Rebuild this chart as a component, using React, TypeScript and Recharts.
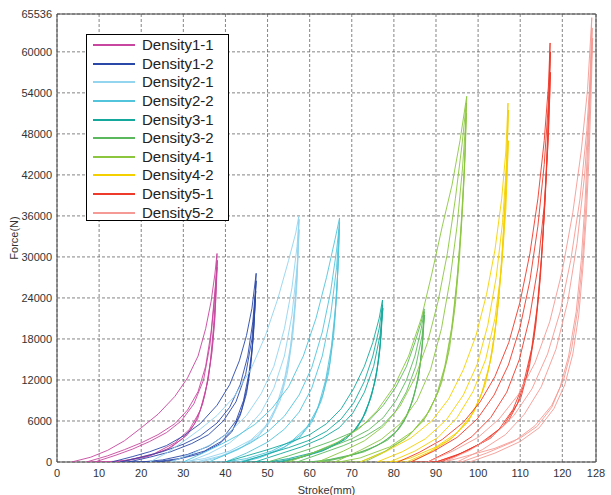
import { LineChart, Line, XAxis, YAxis, CartesianGrid, Legend, ReferenceArea } from "recharts";

type Pt = [number, number];

// stroke (mm), force (N) — load / unload cycles
const density1_1: Pt[] = [
  [3.5, 0], [8, 700], [12, 1700], [16, 3100], [20, 5000], [24, 7000], [28, 9600], [31, 12300], [33.5, 15500], [35.3, 19500], [36.6, 23500], [37.5, 27500], [38, 30500],
  [37.7, 25000], [37.2, 20000], [36.4, 14500], [35.2, 10000], [33.4, 6300], [31, 4000], [27, 2100], [22, 900], [16, 200], [11, 0],
  [7, 0], [12, 900], [16, 1800], [20, 2800], [24, 4000], [28, 5600], [31, 7600], [33.5, 10300], [35.3, 14000], [36.6, 19000], [37.5, 25000], [38.1, 29500],
  [37.6, 22500], [37, 17500], [36, 12500], [34.6, 8500], [32.6, 5500], [30, 3500], [26, 1800], [21, 700], [15, 0],
  [9, 0], [14, 1000], [18, 1900], [22, 3000], [26, 4300], [29.5, 6000], [32.5, 8500], [34.8, 12000], [36.3, 17000], [37.3, 23000], [38, 28500],
  [37.5, 21000], [36.8, 16000], [35.7, 11500], [34, 7500], [31.5, 4800], [28, 2800], [23, 1200], [17, 300], [13, 0],
];

const density1_2: Pt[] = [
  [13, 0], [18, 800], [22, 1500], [26, 2400], [30, 3800], [34, 5600], [38, 8300], [41, 11300], [43.3, 14800], [45, 18500], [46.3, 22500], [47.3, 27600],
  [47, 22500], [46.5, 17500], [45.6, 13000], [44.3, 9000], [42.5, 6000], [40, 4000], [36, 2300], [31, 1100], [25, 300], [20, 0],
  [15, 0], [20, 700], [25, 1500], [30, 2600], [34, 3800], [38, 5700], [41, 8000], [43.5, 11300], [45.3, 15500], [46.5, 20500], [47.3, 26500],
  [46.8, 20500], [46.2, 15500], [45.2, 11000], [43.8, 7500], [41.8, 4800], [39, 3000], [35, 1600], [29, 500], [23, 0],
  [17, 0], [22, 700], [27, 1500], [32, 2700], [36, 4000], [39.5, 6000], [42.5, 8800], [44.8, 12800], [46.3, 18000], [47.2, 25000],
  [46.7, 19000], [46, 14000], [45, 10000], [43.5, 6800], [41.5, 4400], [38.5, 2600], [34, 1200], [28, 300], [24, 0],
];

const density2_1: Pt[] = [
  [22, 0], [26, 1300], [30, 3000], [34, 4800], [38, 6800], [42, 9500], [46, 13500], [49.5, 18500], [52.5, 24000], [55, 29500], [56.7, 33500], [57.4, 35900],
  [57.1, 29000], [56.5, 23000], [55.5, 17000], [54, 12000], [52, 8000], [49.5, 5200], [46, 3200], [41, 1600], [35, 500], [30, 0],
  [27, 0], [32, 1200], [37, 2700], [41, 4400], [45, 6800], [48.5, 10000], [51.5, 14000], [54, 19500], [55.8, 25500], [57, 31500], [57.5, 35500],
  [57, 27000], [56.2, 20500], [55, 14500], [53.3, 10000], [51, 6500], [48, 4000], [44, 2200], [39, 900], [33, 0],
  [31, 0], [36, 1200], [41, 2800], [45, 4800], [48.5, 7300], [51.5, 10800], [54, 15500], [55.8, 21500], [57, 28500], [57.5, 34000],
  [56.9, 25000], [56, 18500], [54.7, 13000], [53, 9000], [50.5, 5800], [47.5, 3500], [43, 1800], [38, 600], [34, 0],
];

const density2_2: Pt[] = [
  [30, 0], [35, 1400], [39, 2600], [43, 3900], [47, 5500], [51, 7800], [55, 11000], [58.5, 15500], [61.5, 21000], [64, 27000], [66, 32500], [67.1, 35700],
  [66.8, 29000], [66.2, 23000], [65.2, 17000], [63.8, 12000], [62, 8000], [59.5, 5200], [56, 3200], [51, 1600], [45, 500], [40, 0],
  [36, 0], [41, 1300], [46, 2800], [50, 4400], [54, 6700], [57.5, 9800], [60.5, 13800], [63, 19000], [65, 25000], [66.4, 31000], [67.1, 35000],
  [66.6, 27000], [65.9, 20500], [64.8, 14500], [63.2, 10000], [61, 6500], [58, 4000], [54, 2200], [49, 900], [43, 0],
  [40, 0], [45, 1300], [50, 2900], [54, 4800], [57.5, 7300], [60.5, 10800], [63, 15500], [65, 21500], [66.4, 28500], [67, 34000],
  [66.5, 25000], [65.7, 18500], [64.5, 13000], [62.8, 9000], [60.5, 5800], [57.5, 3500], [53, 1800], [48, 600], [44, 0],
];

const density3_1: Pt[] = [
  [40, 0], [45, 900], [50, 1800], [55, 2800], [60, 4000], [64, 5600], [67.5, 7800], [70.5, 10800], [73, 14000], [75, 17500], [76.5, 21000], [77.3, 23700],
  [77, 19000], [76.4, 15000], [75.4, 11500], [74, 8600], [72.3, 6000], [70, 4200], [66, 2600], [61, 1400], [55, 500], [50, 0],
  [44, 0], [50, 1200], [55, 2100], [60, 3200], [64, 4500], [67.5, 6300], [70.5, 8700], [73, 11800], [75, 15500], [76.5, 19500], [77.3, 23000],
  [76.8, 17500], [76, 13500], [74.8, 10000], [73.3, 7200], [71.3, 5000], [68.5, 3300], [64, 1900], [58, 700], [52, 0],
  [47, 0], [53, 1200], [58, 2200], [63, 3500], [67, 5000], [70.3, 7200], [73, 10200], [75.2, 14000], [76.7, 18500], [77.4, 22500],
  [76.7, 16500], [75.8, 12500], [74.5, 9300], [72.8, 6700], [70.6, 4600], [67.5, 3000], [63, 1600], [57, 500], [53, 0],
];

const density3_2: Pt[] = [
  [50, 0], [55, 900], [60, 1900], [65, 3000], [70, 4300], [74, 6000], [77.5, 8300], [80.5, 11000], [83, 14000], [85, 17500], [86.5, 20500], [87.2, 22400],
  [86.9, 18000], [86.3, 14500], [85.3, 11000], [84, 8200], [82.3, 5800], [80, 4000], [76, 2400], [71, 1200], [65, 400], [60, 0],
  [54, 0], [60, 1200], [65, 2200], [70, 3400], [74, 4700], [77.5, 6500], [80.5, 9000], [83, 12000], [85, 15500], [86.5, 19500], [87.2, 22000],
  [86.7, 17000], [86, 13000], [84.8, 9800], [83.3, 7000], [81.3, 4900], [78.5, 3200], [74, 1800], [68, 700], [62, 0],
  [57, 0], [63, 1300], [68, 2400], [73, 3700], [77, 5200], [80.3, 7300], [83, 10300], [85.2, 14000], [86.7, 18500], [87.3, 21500],
  [86.6, 16000], [85.8, 12200], [84.5, 9000], [82.8, 6500], [80.6, 4500], [77.5, 2900], [73, 1500], [67, 500], [63, 0],
];

const density4_1: Pt[] = [
  [55, 0], [61, 1400], [67, 3000], [72, 5000], [76, 7500], [80, 11000], [83.5, 15500], [86.5, 21000], [89, 27500], [91.5, 34500], [93.8, 40500], [95.7, 47000], [97.3, 53500],
  [97, 46000], [96.4, 38000], [95.6, 30000], [94.6, 23000], [93.2, 16500], [91.3, 11500], [88.5, 7500], [84.5, 4500], [79, 2200], [72, 600], [67, 0],
  [62, 0], [68, 1600], [73, 3100], [77.5, 5200], [81.5, 8200], [85, 12300], [88, 17500], [90.5, 23500], [92.7, 30500], [94.6, 38500], [96.2, 46500], [97.2, 52500],
  [96.8, 44000], [96.1, 36000], [95.2, 28000], [94.1, 21000], [92.6, 15000], [90.6, 10300], [87.6, 6600], [83.5, 3800], [78, 1600], [72, 0],
  [66, 0], [72, 1700], [77, 3300], [81.5, 5600], [85.5, 9000], [88.7, 13500], [91.3, 19500], [93.3, 26500], [95, 34500], [96.3, 43000], [97.2, 51000],
  [96.7, 42000], [95.9, 33500], [94.9, 26000], [93.7, 19500], [92.1, 14000], [90, 9500], [87, 6000], [82.5, 3300], [77, 1200], [73, 0],
];

const density4_2: Pt[] = [
  [72, 0], [78, 1500], [84, 3500], [89, 6000], [93, 9200], [96.5, 13500], [99.5, 18500], [102, 24500], [104, 31000], [105.6, 38500], [106.6, 45500], [107.1, 52500],
  [106.9, 46000], [106.4, 38000], [105.7, 30000], [104.8, 23000], [103.5, 16500], [101.7, 11300], [99, 7300], [95, 4300], [90, 2200], [84, 600], [80, 0],
  [76, 0], [82, 1500], [87.5, 3400], [92.5, 6200], [96.5, 9800], [99.8, 14300], [102.3, 20000], [104.3, 27000], [105.8, 35000], [106.8, 44000], [107.2, 51500],
  [106.8, 43500], [106.2, 35500], [105.4, 28000], [104.4, 21000], [103, 15000], [101, 10200], [98.2, 6500], [94, 3600], [88.5, 1500], [83, 0],
  [79, 0], [85, 1600], [90.5, 3600], [95, 6500], [98.8, 10300], [101.8, 15000], [104, 21000], [105.6, 28500], [106.6, 37000], [107.2, 47000],
  [106.7, 40000], [106, 32500], [105.1, 25500], [104, 19000], [102.5, 13500], [100.4, 9200], [97.5, 5800], [93.2, 3200], [88, 1200], [84, 0],
];

const density5_1: Pt[] = [
  [81, 0], [86, 1400], [91.5, 3300], [96.5, 5800], [100.5, 8800], [104, 12500], [107.3, 17500], [110, 23500], [112.3, 30500], [114.2, 38500], [115.7, 47000], [116.7, 55000], [117.1, 61300],
  [116.8, 53000], [116.3, 44000], [115.6, 35000], [114.8, 27000], [113.7, 20000], [112.2, 14000], [110.2, 9500], [107.2, 6000], [103, 3500], [97, 1500], [90, 0],
  [84, 0], [89.5, 1600], [95, 3600], [99.8, 6300], [103.8, 9800], [107.2, 14200], [110, 19800], [112.3, 26500], [114.2, 34500], [115.7, 43500], [116.7, 52500], [117.2, 60000],
  [116.7, 50000], [116.1, 41000], [115.3, 32000], [114.4, 24500], [113.2, 18000], [111.5, 12500], [109.3, 8500], [106, 5300], [101.5, 3000], [95, 1000], [90, 0],
  [88, 0], [93.5, 1700], [98.5, 3700], [103, 6500], [106.8, 10200], [109.8, 15000], [112.2, 21000], [114.2, 28500], [115.7, 37500], [116.7, 47500], [117.2, 57000],
  [116.6, 47000], [115.9, 38000], [115, 29500], [114, 22500], [112.7, 16500], [110.8, 11500], [108.3, 7700], [105, 4800], [100, 2500], [94, 700], [91, 0],
];

const density5_2: Pt[] = [
  [88, 0], [94, 1600], [100, 3600], [105, 6300], [109.5, 9800], [113.5, 14500], [117, 20500], [120, 28000], [122.5, 36500], [124.5, 45500], [126, 54500], [127, 65000],
  [126.6, 56000], [126.1, 47500], [125.4, 38000], [124.5, 29500], [123.3, 22000], [121.5, 15500], [119.5, 11000], [117.5, 8000], [114, 5200], [110, 3500], [104, 2000], [98, 1000], [92, 0],
  [92, 0], [98, 1700], [103.5, 3800], [108.5, 6800], [112.8, 10700], [116.5, 15800], [119.5, 22000], [122, 29500], [124.2, 38500], [125.8, 48500], [126.8, 58000], [127.1, 63500],
  [126.7, 55000], [126.2, 46000], [125.6, 37500], [124.8, 29500], [123.7, 22500], [122.2, 16500], [120.3, 12000], [117.5, 8300], [113.5, 5300], [108.5, 3000], [102, 1300], [96, 0],
  [95, 0], [101, 1800], [106.5, 4000], [111, 7000], [115, 11000], [118.5, 16500], [121.3, 23500], [123.5, 32000], [125.3, 42000], [126.5, 52500], [127.2, 62000],
  [126.8, 53000], [126.3, 44000], [125.7, 36000], [124.9, 28500], [123.9, 21500], [122.5, 15800], [120.6, 11300], [118, 7800], [114.5, 5000], [110, 3000], [104, 1300], [98, 0],
];

const seriesNames = [
  "Density1-1", "Density1-2", "Density2-1", "Density2-2", "Density3-1",
  "Density3-2", "Density4-1", "Density4-2", "Density5-1", "Density5-2",
];
const seriesColors = [
  "#c8469f", "#2a48a8", "#93d4ee", "#52c4dc", "#14a89c",
  "#5cb85c", "#8cc63f", "#f5d000", "#ee3a2a", "#f59a94",
];
const seriesPoints = [
  density1_1, density1_2, density2_1, density2_2, density3_1,
  density3_2, density4_1, density4_2, density5_1, density5_2,
];

const xTicks = [0, 10, 20, 30, 40, 50, 60, 70, 80, 90, 100, 110, 120, 128];
const yTicks = [0, 6000, 12000, 18000, 24000, 30000, 36000, 42000, 48000, 54000, 60000, 65536];

const FONT = "'Liberation Sans', Arial, sans-serif";

function LegendBox() {
  return (
    <div
      style={{
        width: 141,
        height: 184,
        border: "1px solid #000",
        background: "#fff",
        fontFamily: FONT,
        fontSize: 15,
        color: "#222",
        paddingTop: 1,
        boxSizing: "content-box",
      }}
    >
      {seriesNames.map((name, i) => (
        <div key={name} style={{ height: 18.6, display: "flex", alignItems: "center", lineHeight: "18px" }}>
          <span
            style={{
              display: "inline-block",
              width: 42,
              height: 0,
              borderTop: `2px solid ${seriesColors[i]}`,
              marginLeft: 6,
              marginRight: 7,
            }}
          />
          <span>{name}</span>
        </div>
      ))}
    </div>
  );
}

export default function App() {
  return (
    <>
      <style>{`body{margin:0;background:#fff}`}</style>
      <LineChart
        width={611}
        height={495}
        margin={{ top: 14, right: 15, left: 0, bottom: 0 }}
        style={{ fontFamily: FONT }}
      >
        <CartesianGrid stroke="#666" strokeDasharray="3 2" strokeWidth={0.8} />
        <XAxis
          dataKey="x"
          type="number"
          domain={[0, 128]}
          ticks={xTicks}
          allowDataOverflow
          height={33}
          tickLine={false}
          axisLine={false}
          tickSize={4}
          tickMargin={3}
          tick={{ fontSize: 11, fill: "#333" }}
          label={{ value: "Stroke(mm)", position: "insideBottom", offset: 1, fontSize: 11, fill: "#333" }}
        />
        <YAxis
          type="number"
          domain={[0, 65536]}
          ticks={yTicks}
          allowDataOverflow
          width={57}
          tickLine={false}
          axisLine={false}
          tickSize={3}
          tickMargin={2}
          tick={{ fontSize: 11, fill: "#333" }}
          label={{ value: "Force(N)", angle: -90, position: "insideLeft", offset: 14, fontSize: 11, fill: "#333", style: { textAnchor: "middle" } }}
        />
        <ReferenceArea x1={0} x2={128} y1={0} y2={65536} fill="none" stroke="#444" strokeWidth={1} />
        {seriesPoints.map((pts, i) => (
          <Line
            key={seriesNames[i]}
            name={seriesNames[i]}
            data={pts.map(([x, f]) => ({ x, f }))}
            dataKey="f"
            type="linear"
            stroke={seriesColors[i]}
            strokeWidth={1}
            strokeOpacity={0.9}
            dot={false}
            activeDot={false}
            isAnimationActive={false}
          />
        ))}
        <Legend
          layout="vertical"
          align="center"
          verticalAlign="middle"
          content={() => <LegendBox />}
          wrapperStyle={{ left: 86, top: 34, width: 143, height: 186 }}
        />
      </LineChart>
    </>
  );
}
